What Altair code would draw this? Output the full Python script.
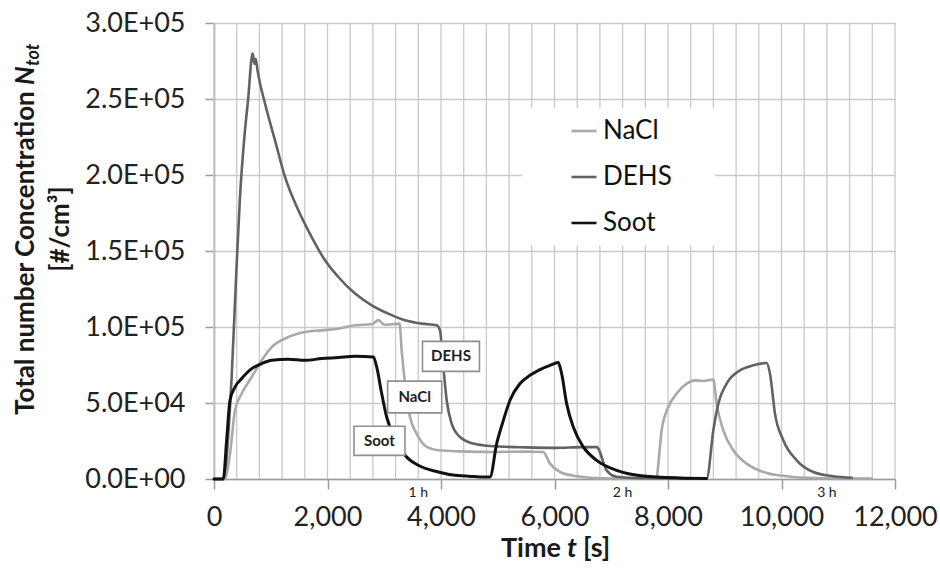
import altair as alt
import pandas as pd

# ---------------- data ----------------
nacl_t = [0, 190, 282, 370, 488, 664, 840, 1017, 1310, 1604, 1897, 2191, 2485, 2779, 2900, 3000,
          3270, 3307, 3366, 3454, 3571, 3748, 3953, 4300, 5000, 5500, 5800, 5921, 6097, 6391, 6743,
          7200, 7800, 7830, 7888, 8006, 8153, 8329, 8476, 8622, 8799, 8857, 8975, 9151, 9386, 9680,
          10092, 10600, 11590]
nacl_v = [0, 0, 16700, 45200, 56200, 67100, 78100, 86800, 93400, 96700, 97800, 98900, 101100, 101800,
          104500, 101500, 102200, 84700, 62800, 40800, 29900, 21100, 18900, 18200, 17800, 18000, 17800,
          10100, 4600, 1800, 600, 200, 200, 10100, 32000, 47400, 56200, 62800, 64900, 64500, 65400,
          49600, 32000, 18900, 10100, 4600, 1800, 600, 300]

dehs_t = [0, 160, 311, 400, 458, 546, 605, 660, 681, 715, 735, 770, 899, 1075, 1251, 1486, 1721, 1956,
          2191, 2485, 2779, 3072, 3366, 3660, 3924, 3982, 4041, 4100, 4188, 4335, 4570, 4863, 5500,
          6000, 6500, 6743, 6919, 7095, 7500, 8682, 8799, 8887, 9034, 9269, 9504, 9739, 9797, 9885,
          10032, 10267, 10561, 10914, 11237]
dehs_v = [0, 0, 67100, 141700, 185500, 229400, 251300, 276000, 280000, 273000, 276500, 268000, 247000,
          222800, 198700, 176800, 159200, 143900, 132900, 122000, 114300, 108800, 104400, 102200,
          101100, 97800, 73700, 51800, 36400, 27600, 23300, 21700, 20800, 20500, 21000, 21000, 5700,
          1500, 600, 400, 32000, 49600, 62800, 71500, 74800, 76300, 69300, 43000, 25500, 12300, 4600,
          1800, 800]

soot_t = [0, 164, 223, 282, 370, 488, 664, 840, 1017, 1310, 1604, 1897, 2191, 2485, 2808, 2867, 2955,
          3043, 3101, 3366, 3600, 3953, 4247, 4600, 4863, 4981, 5099, 5216, 5392, 5568, 5744, 5921,
          6067, 6126, 6214, 6331, 6507, 6743, 7095, 7565, 8211, 8680]
soot_v = [0, 0, 25500, 51800, 60500, 66100, 72600, 75900, 78100, 78800, 78100, 79200, 79900, 80700,
          80300, 73700, 56200, 40800, 34200, 15600, 9000, 4600, 2400, 1600, 1300, 23300, 38600, 51800,
          62800, 68200, 72000, 74800, 76600, 69300, 49600, 34200, 21100, 12300, 5700, 2000, 700, 400]

series = ["NaCl", "DEHS", "Soot"]
colors = ["#a9a9a9", "#626262", "#111111"]

x_ticks = [0, 2000, 4000, 6000, 8000, 10000, 12000]
x_grid = [i * 400 for i in range(31)]
y_ticks = [0, 50000, 100000, 150000, 200000, 250000, 300000]

hour_t = [3600, 7200, 10800]
hour_lbl = ["1 h", "2 h", "3 h"]

box_lbl = ["DEHS", "NaCl", "Soot"]
box_t = [4176, 3536, 2916]
box_v = [80700, 53950, 25130]

legend_box_t = [5430, 8830]
legend_box_v = [153600, 243900]

# ---------------- tables ----------------
rows = []
for name, ts, vs in [("NaCl", nacl_t, nacl_v), ("DEHS", dehs_t, dehs_v), ("Soot", soot_t, soot_v)]:
    for i, (t, v) in enumerate(zip(ts, vs)):
        rows.append({"series": name, "t": t, "n": v, "i": i})
df = pd.DataFrame(rows)
df_grid = pd.DataFrame({"g": x_grid})
df_hours = pd.DataFrame({"t": hour_t, "lbl": hour_lbl})
df_box = pd.DataFrame({"lbl": box_lbl, "t": box_t, "n": box_v})
df_leg = pd.DataFrame({"t1": [legend_box_t[0]], "t2": [legend_box_t[1]],
                       "n1": [legend_box_v[0]], "n2": [legend_box_v[1]]})
dummy = pd.DataFrame({"a": [0]})

W, H = 681, 456
FONT = "Lato"
AX = "#9a9a9a"

xs = alt.Scale(domain=[0, 12000], nice=False, zero=False)
ys = alt.Scale(domain=[0, 300000], nice=False)

x_axis = alt.Axis(values=x_ticks, grid=False, title=None, tickSize=10,
                  tickColor=AX, domainColor=AX, domainWidth=1.5, tickWidth=1.5,
                  labelFont=FONT, labelFontSize=27, labelColor="#222", labelPadding=15,
                  labelFlush=False, labelOverlap=False,
                  labelExpr="format(datum.value, ',')")
y_axis = alt.Axis(values=y_ticks, grid=True, gridColor="#c9c9c9", gridWidth=1.3, title=None,
                  tickSize=9, tickColor=AX, domainColor=AX, domainWidth=1.5, tickWidth=1.5,
                  labelFont=FONT, labelFontSize=27, labelColor="#222", labelPadding=20,
                  labelExpr="replace(replace(format(datum.value, '.1e'), 'e+', 'E+0'), 'e-', 'E-0')")

grid = alt.Chart(df_grid).mark_rule(color="#c9c9c9", strokeWidth=1.3).encode(
    x=alt.X("g:Q", scale=xs, axis=x_axis)
)

legbox = alt.Chart(df_leg).mark_rect(color="white").encode(
    x=alt.X("t1:Q", scale=xs, axis=x_axis), x2="t2:Q",
    y=alt.Y("n1:Q", scale=ys, axis=y_axis), y2="n2:Q",
)

legend = alt.Legend(orient="none", legendX=356, legendY=94, title=None, symbolType="stroke",
                    symbolSize=625, symbolStrokeWidth=2.6, labelFont=FONT, labelFontSize=26,
                    labelColor="#111", rowPadding=19, labelOffset=5, padding=0)

def line_layer(name, sw):
    return alt.Chart(df).transform_filter(alt.datum.series == name).mark_line(
        strokeWidth=sw, strokeJoin="round", strokeCap="round", interpolate="monotone"
    ).encode(
        x=alt.X("t:Q", scale=xs, axis=x_axis),
        y=alt.Y("n:Q", scale=ys, axis=y_axis),
        color=alt.Color("series:N", scale=alt.Scale(domain=series, range=colors), legend=legend),
        order="i:Q",
    )

boxes = alt.Chart(df_box).mark_point(fill="white", stroke="#8e8e8e", strokeWidth=1.6,
                                     opacity=1, fillOpacity=1, filled=False).encode(
    x=alt.X("t:Q", scale=xs, axis=x_axis),
    y=alt.Y("n:Q", scale=ys, axis=y_axis),
    shape=alt.Shape("lbl:N", scale=alt.Scale(domain=box_lbl, range=[
        "M-1,-0.526L1,-0.526L1,0.526L-1,0.526Z",
        "M-1,-0.588L1,-0.588L1,0.588L-1,0.588Z",
        "M-1,-0.57L1,-0.57L1,0.57L-1,0.57Z"]), legend=None),
    size=alt.Size("lbl:N", scale=alt.Scale(domain=box_lbl, range=[3249, 2601, 2601]), legend=None),
)
box_text = alt.Chart(df_box).mark_text(font=FONT, fontWeight="bold", fontSize=15, color="#222",
                                       baseline="middle", align="center").encode(
    x=alt.X("t:Q", scale=xs, axis=x_axis),
    y=alt.Y("n:Q", scale=ys, axis=y_axis),
    text="lbl:N",
)

hours = alt.Chart(df_hours).mark_text(font=FONT, fontSize=14, color="#222", baseline="middle",
                                      align="center").encode(
    x=alt.X("t:Q", scale=xs, axis=x_axis),
    y=alt.value(H + 14),
    text="lbl:N",
)

def txt(text, x, y, **kw):
    return alt.Chart(dummy).mark_text(text=text, font=FONT, color="#1a1a1a", **kw).encode(
        x=alt.value(x), y=alt.value(y))

# y title (rotated)
yt1 = txt("Total number Concentration", -180, 392, angle=270, align="left",
          baseline="alphabetic", fontSize=26, fontWeight="bold")
yt2 = txt("N", -180, 62, angle=270, align="left", baseline="alphabetic", fontSize=26,
          fontWeight="bold", fontStyle="italic")
yt3 = txt("tot", -180, 43, angle=270, align="left", baseline="alphabetic", fontSize=18,
          fontWeight="bold", fontStyle="italic", dy=5)
yt4 = txt("[#/cm³]", -145, 206, angle=270, align="center", baseline="alphabetic",
          fontSize=26, fontWeight="bold")
# x title
xt1 = txt("Time", 347, 534, align="right", baseline="alphabetic", fontSize=27, fontWeight="bold")
xt2 = txt("t", 358, 534, align="center", baseline="alphabetic", fontSize=27, fontWeight="bold",
          fontStyle="italic")
xt3 = txt("[s]", 369, 534, align="left", baseline="alphabetic", fontSize=27, fontWeight="bold")

chart = alt.layer(
    grid, legbox,
    line_layer("NaCl", 2.6), line_layer("DEHS", 2.6), line_layer("Soot", 3.0),
    boxes, box_text, hours,
    yt1, yt2, yt3, yt4, xt1, xt2, xt3,
).properties(
    width=W, height=H,
    autosize=alt.AutoSizeParams(type="none"),
    padding={"left": 214, "top": 23, "right": 45, "bottom": 95},
    background="white",
).configure_view(stroke=None)

chart.save("out.html", embed_options={"renderer": "svg", "actions": False})
